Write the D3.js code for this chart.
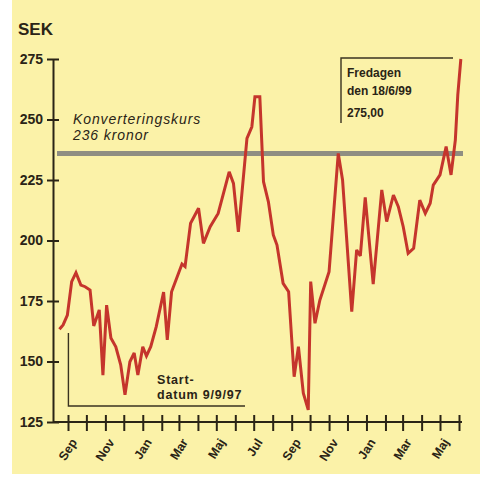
<!DOCTYPE html>
<html>
<head>
<meta charset="utf-8">
<script src="https://cdn.jsdelivr.net/npm/d3@7"></script>
<style>
  body { margin: 0; background: #ffffff; }
  svg { display: block; }
</style>
</head>
<body>
<svg width="480" height="477"></svg>
<script>
// kursen, veckovis ungefär
var dates = [
  "1997-09-01", "1997-09-07", "1997-09-14", "1997-09-21", "1997-09-28", "1997-10-06",
  "1997-10-13", "1997-10-21", "1997-10-27", "1997-11-05", "1997-11-11", "1997-11-17",
  "1997-11-24", "1997-12-02", "1997-12-10", "1997-12-17", "1997-12-25", "1998-01-01",
  "1998-01-07", "1998-01-15", "1998-01-21", "1998-01-28", "1998-02-06", "1998-02-18",
  "1998-02-24", "1998-03-03", "1998-03-20", "1998-03-25", "1998-04-03", "1998-04-16",
  "1998-04-24", "1998-05-05", "1998-05-18", "1998-06-05", "1998-06-12", "1998-06-20",
  "1998-07-04", "1998-07-12", "1998-07-17", "1998-07-25", "1998-07-31", "1998-08-08",
  "1998-08-16", "1998-08-22", "1998-09-01", "1998-09-10", "1998-09-19", "1998-09-26",
  "1998-10-04", "1998-10-12", "1998-10-16", "1998-10-23", "1998-10-31", "1998-11-15",
  "1998-11-30", "1998-12-07", "1998-12-22", "1998-12-30", "1999-01-05", "1999-01-13",
  "1999-01-26", "1999-02-09", "1999-02-17", "1999-02-28", "1999-03-08", "1999-03-16",
  "1999-03-24", "1999-04-02", "1999-04-12", "1999-04-21", "1999-04-29", "1999-05-04",
  "1999-05-15", "1999-05-25", "1999-06-02", "1999-06-09", "1999-06-13", "1999-06-18"
];
var kurs = [
  163.3, 165.1, 169.2, 183.0, 186.7, 181.6,
  180.9, 179.5, 164.7, 171.3, 144.4, 173.3,
  159.7, 156.1, 148.6, 136.2, 149.9, 153.5,
  144.4, 156.1, 152.3, 156.1, 164.4, 178.7,
  158.9, 178.8, 190.3, 189.2, 207.1, 213.3,
  198.8, 205.7, 211.2, 228.4, 223.6, 203.6,
  242.2, 247.0, 259.4, 259.4, 224.3, 216.0,
  202.3, 198.1, 182.3, 178.8, 143.7, 156.1,
  136.9, 130.0, 183.0, 165.8, 175.4, 187.1,
  236.0, 225.0, 170.6, 196.1, 193.6, 217.8,
  182.0, 220.9, 207.8, 218.8, 214.0, 205.7,
  194.7, 196.8, 216.7, 211.2, 215.4, 222.9,
  227.1, 238.8, 227.1, 241.5, 260.1, 275.0
];
var konvertering = 236;
var yTicks = [125, 150, 175, 200, 225, 250, 275];
var monthNames = ["Jan", "Feb", "Mar", "Apr", "Maj", "Jun", "Jul", "Aug", "Sep", "Okt", "Nov", "Dec"];

var parse = d3.timeParse("%Y-%m-%d");
var data = dates.map(function(d, i) {
    return { date: parse(d), value: kurs[i] };
});

var x = d3.scaleTime()
    .domain([new Date(1997, 8, 15), new Date(1999, 5, 15)])
    .range([68, 459]);

var y = d3.scaleLinear()
    .domain([125, 275])
    .range([422, 59]);

var svg = d3.select('svg');
var axisX = 53;
var ink = "#2a2416";
var font = "Liberation Sans";

svg.append("rect")
    .attr("x", 12)
    .attr("y", 0)
    .attr("width", 468)
    .attr("height", 474)
    .attr("fill", "#fbf2a8");

// flerradig text i ett enda textelement
function block(tx, ty, lines, gap, size, weight, style) {
    var t = svg.append("text")
        .attr("x", tx)
        .attr("y", ty)
        .attr("font-family", font)
        .attr("font-weight", weight)
        .attr("font-style", style)
        .attr("font-size", size)
        .attr("fill", ink);
    lines.forEach(function(l, i) {
        t.append("tspan")
            .attr("x", tx)
            .attr("dy", i == 0 ? 0 : gap[i - 1])
            .text(l);
    });
    return t;
}

// konverteringskurs
svg.append("line")
    .attr("x1", 57)
    .attr("x2", 463)
    .attr("y1", y(konvertering))
    .attr("y2", y(konvertering))
    .attr("stroke", "#8f8e82")
    .attr("stroke-width", 5);

block(73, 124, ["Konverteringskurs", "236 kronor"], [16], 14, "normal", "italic")
    .attr("letter-spacing", 0.9);

// startdatum
var start = data[0];
svg.append("path")
    .attr("d", "M" + (x(start.date) + 9) + "," + 333 + "V" + 406 + "H" + 245)
    .attr("fill", "none")
    .attr("stroke", "#3a3320")
    .attr("stroke-width", 1.4);

block(157, 384, ["Start-", "datum 9/9/97"], [15], 12.5, "bold", "normal")
    .attr("letter-spacing", 0.8);

// fredagen
svg.append("path")
    .attr("d", "M341,123V58H453")
    .attr("fill", "none")
    .attr("stroke", "#3a3320")
    .attr("stroke-width", 1.4);

block(347, 77, ["Fredagen", "den 18/6/99", "275,00"], [18, 22], 12, "bold", "normal");

// axlar
var yAxis = d3.axisLeft(y)
    .tickValues(yTicks)
    .tickSizeInner(6)
    .tickSizeOuter(0)
    .tickPadding(4);

var gy = svg.append("g")
    .attr("class", "y axis")
    .attr('transform', 'translate(' + axisX + ',0)')
    .call(yAxis);

var monthTicks = d3.timeMonth.range(new Date(1997, 8, 1), new Date(1999, 6, 1))
    .map(function(d) { return new Date(d.getFullYear(), d.getMonth(), 15); });

var xAxis = d3.axisBottom(x)
    .tickValues(monthTicks)
    .tickSizeInner(9)
    .tickSizeOuter(0)
    .tickFormat(function(d, i) { return i % 2 == 0 ? monthNames[d.getMonth()] : ""; });

var gx = svg.append("g")
    .attr("class", "x axis")
    .attr('transform', 'translate(0,' + y(125) + ')')
    .call(xAxis);

gx.select(".domain").remove();
gx.insert("line", ":first-child")
    .attr("x1", axisX)
    .attr("x2", x(monthTicks[monthTicks.length - 1]) + 3)
    .attr("stroke", ink)
    .attr("stroke-width", 2);

gy.select(".domain")
    .attr("stroke", ink)
    .attr("stroke-width", 2);

gy.selectAll(".tick line")
    .attr("x1", -6)
    .attr("x2", 6)
    .attr("stroke", ink)
    .attr("stroke-width", 2);

gx.selectAll(".tick line")
    .attr("y1", -7)
    .attr("y2", 9)
    .attr("stroke", ink)
    .attr("stroke-width", 2);

gy.selectAll(".tick text")
    .attr("x", -10)
    .attr("font-family", font)
    .attr("font-weight", "bold")
    .attr("font-size", 14)
    .attr("fill", ink);

gx.selectAll(".tick text")
    .attr("font-family", font)
    .attr("font-weight", "bold")
    .attr("font-size", 12.5)
    .attr("fill", ink)
    .attr("text-anchor", "end")
    .attr("dy", 0)
    .attr("y", 0)
    .attr("transform", "translate(9,20) rotate(-58)");

svg.append("text")
    .attr("x", 18)
    .attr("y", 35)
    .attr("font-family", font)
    .attr("font-weight", "bold")
    .attr("font-size", 17)
    .attr("fill", ink)
    .text("SEK");

// kurslinjen
var line = d3.line()
    .x(d => x(d.date))
    .y(d => y(d.value));

svg.append("path")
    .datum(data)
    .attr("d", line)
    .attr("fill", "none")
    .attr("stroke", "#c5352c")
    .attr("stroke-width", 3)
    .attr("stroke-linejoin", "miter")
    .attr("stroke-miterlimit", 3);
</script>
</body>
</html>
